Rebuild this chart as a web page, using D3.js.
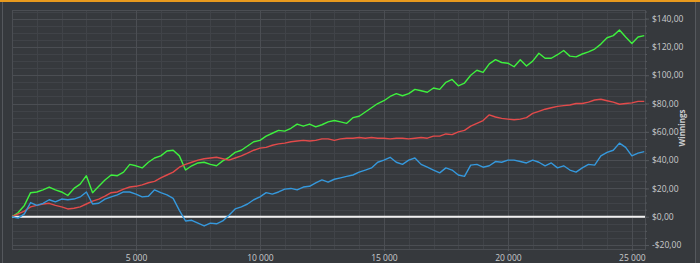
<!DOCTYPE html>
<html>
<head>
<meta charset="utf-8">
<script src="https://cdn.jsdelivr.net/npm/d3@7"></script>
<style>
  html, body { margin: 0; padding: 0; background: #36393d; }
  svg { display: block; }
  text { font-family: "Open Sans", "DejaVu Sans", sans-serif; }
</style>
</head>
<body>
<svg width="700" height="263"></svg>
<script>
const svg = d3.select("svg"),
  width = +svg.attr("width"),
  height = +svg.attr("height");

// hands played, one sample every 250 hands
const step = 250;

// winnings in $ for each sample
const green = [0, 3, 8, 17, 17.5, 19, 21, 19, 17.5, 15, 20, 23, 29, 17, 21.5, 26, 29.5, 29, 31.5, 37,
  36, 34.5, 38.5, 41.5, 43, 46.5, 47, 43, 33, 36, 38, 38.5, 37, 36, 39.5, 42, 45.5, 47, 50, 53,
  54, 57, 59, 61, 60.5, 62.5, 65.5, 64, 65.5, 63.5, 65, 67, 68, 67, 66, 70, 71, 74, 77, 80,
  82, 85, 87, 85.5, 87, 90, 89, 88, 91, 90, 95, 97, 92.5, 94.5, 100, 103.5, 102, 108, 111, 109,
  108.5, 106, 111, 106.5, 110, 115.5, 112, 112, 114.5, 117.5, 113.5, 113, 115, 116.5, 118.5, 122, 126.5, 128, 132, 127,
  122.5, 127, 128];

const red = [0, 2, 4, 7, 8, 9, 9.5, 8, 7, 5.5, 6, 7, 9, 11, 12.5, 14.5, 17, 17.5, 19.5, 21,
  21.5, 22.5, 24, 25, 27.5, 29.5, 31.5, 35, 37, 38.5, 40, 41, 41.5, 42, 41, 40, 41.5, 43, 45, 47,
  48.5, 49, 50.5, 51.5, 52, 53, 53.5, 54, 53.5, 54, 55, 55, 54, 55, 55.5, 55.5, 56, 55.5, 56, 55.5,
  55.5, 55, 55.5, 55.5, 55, 55.5, 56, 55.5, 57, 57, 58.5, 58, 60, 61, 64, 66, 68, 72, 70.5, 69.5,
  69, 68.5, 69, 70, 73, 74.5, 76, 77, 78, 78.5, 79, 80, 80, 81, 82.5, 83, 82, 81, 79.5, 80,
  80.5, 81.5, 81.5];

const blue = [0, -1, 2, 10, 8, 9.5, 12, 10.5, 12.5, 12, 12.5, 14, 17.5, 9, 9.5, 12.5, 14, 15.5, 17.5, 17.5,
  16, 14, 14.5, 19, 17, 15.5, 13, 4.5, -3, -2.5, -4.5, -6.5, -4.5, -5, -3, 1, 5.5, 7, 9, 12,
  14, 17, 16, 17.5, 19.5, 20, 19, 21, 21.5, 24, 26, 24.5, 26.5, 27.5, 28.5, 29.5, 31.5, 33, 34.5, 38.5,
  40, 42, 38.5, 37, 40, 41.5, 37, 35, 33, 31, 34.5, 33, 29.5, 28.5, 36.5, 37, 35, 36, 39, 38.5,
  40, 40, 39, 38, 40, 38.5, 36, 38, 34.5, 36, 33, 31.5, 34.5, 37, 36.5, 43, 45.5, 47, 52, 49,
  43, 45, 46];

const xTicks = [5000, 10000, 15000, 20000, 25000];
const yTicks = [-20, 0, 20, 40, 60, 80, 100, 120, 140];

const series = [
  { name: "green", values: green, color: "#3ef03e" },
  { name: "red", values: red, color: "#e24a4a" },
  { name: "blue", values: blue, color: "#3598dc" }
];

const plot = { left: 12, right: 645, top: 10, bottom: 249 };

const x = d3.scaleLinear().domain([0, 25530]).range([plot.left, plot.right]);
const y = d3.scaleLinear().domain([-22.8, 146.1]).range([plot.bottom, plot.top]);

// panel frame
svg.append("rect").attr("x", 0).attr("y", 0).attr("width", width).attr("height", 2).attr("fill", "#e89a1e");
svg.append("line").attr("x1", 2.5).attr("x2", 2.5).attr("y1", 2).attr("y2", height)
  .attr("stroke", "#55585d");
svg.append("line").attr("x1", 695.5).attr("x2", 695.5).attr("y1", 2).attr("y2", height)
  .attr("stroke", "#55585d");
svg.append("rect").attr("x", 696).attr("y", 2).attr("width", 4).attr("height", height - 2).attr("fill", "#3c3f43");

// minor grid
const g = svg.append("g");
g.selectAll(".ymin").data(d3.range(-20, 146, 5))
  .enter().append("line")
  .attr("x1", plot.left).attr("x2", plot.right)
  .attr("y1", d => Math.round(y(d)) + 0.5).attr("y2", d => Math.round(y(d)) + 0.5)
  .attr("stroke", "#404348");
g.selectAll(".xmin").data(d3.range(1000, 25530, 1000))
  .enter().append("line")
  .attr("y1", plot.top).attr("y2", plot.bottom)
  .attr("x1", d => Math.round(x(d)) + 0.5).attr("x2", d => Math.round(x(d)) + 0.5)
  .attr("stroke", "#404348");

// major grid
g.selectAll(".ymaj").data(yTicks)
  .enter().append("line")
  .attr("x1", plot.left).attr("x2", plot.right)
  .attr("y1", d => Math.round(y(d)) + 0.5).attr("y2", d => Math.round(y(d)) + 0.5)
  .attr("stroke", "#4b4e53");
g.selectAll(".xmaj").data(xTicks)
  .enter().append("line")
  .attr("y1", plot.top).attr("y2", plot.bottom)
  .attr("x1", d => Math.round(x(d)) + 0.5).attr("x2", d => Math.round(x(d)) + 0.5)
  .attr("stroke", "#4b4e53");

// plot border
svg.append("rect")
  .attr("x", plot.left + 0.5).attr("y", plot.top + 0.5)
  .attr("width", plot.right - plot.left).attr("height", plot.bottom - plot.top)
  .attr("fill", "none").attr("stroke", "#4b4e53");

// axes
const fmt = d => (d < 0 ? "-$" : "$") + Math.abs(d).toFixed(2).replace(".", ",");

const yAxis = svg.append("g")
  .attr("transform", `translate(${plot.right},0)`)
  .call(d3.axisRight(y).tickValues(yTicks).tickFormat(fmt).tickSize(4).tickPadding(3));
svg.append("g")
  .attr("transform", `translate(${plot.right},0)`)
  .call(d3.axisRight(y).tickValues(d3.range(-20, 146, 5)).tickFormat("").tickSize(2))
  .select(".domain").remove();

const xAxis = svg.append("g")
  .attr("transform", `translate(0,${plot.bottom})`)
  .call(d3.axisBottom(x).tickValues(xTicks)
    .tickFormat(d => d3.format(",")(d).replace(",", " ")).tickSize(2).tickPadding(4));

[yAxis, xAxis].forEach(a => {
  a.select(".domain").remove();
  a.selectAll("text").attr("fill", "#c9cbcd").style("font-size", "8.5px");
});
svg.selectAll(".tick line").attr("stroke", "#55585d");

svg.append("text")
  .attr("transform", "translate(685,128) rotate(-90)")
  .attr("text-anchor", "middle")
  .attr("fill", "#c9cbcd")
  .style("font-size", "8px")
  .style("font-weight", "bold")
  .text("Winnings");

// zero line
svg.append("line")
  .attr("x1", plot.left).attr("x2", plot.right)
  .attr("y1", y(0)).attr("y2", y(0))
  .attr("stroke", "#f2f2f2").attr("stroke-width", 2);

// series lines
const line = d3.line()
  .x((d, i) => x(i * step))
  .y(d => y(d));

svg.append("g")
  .selectAll("path")
  .data(series)
  .enter().append("path")
  .attr("d", d => line(d.values))
  .attr("fill", "none")
  .attr("stroke", d => d.color)
  .attr("stroke-width", 1.4)
  .attr("stroke-linejoin", "round");
</script>
</body>
</html>
